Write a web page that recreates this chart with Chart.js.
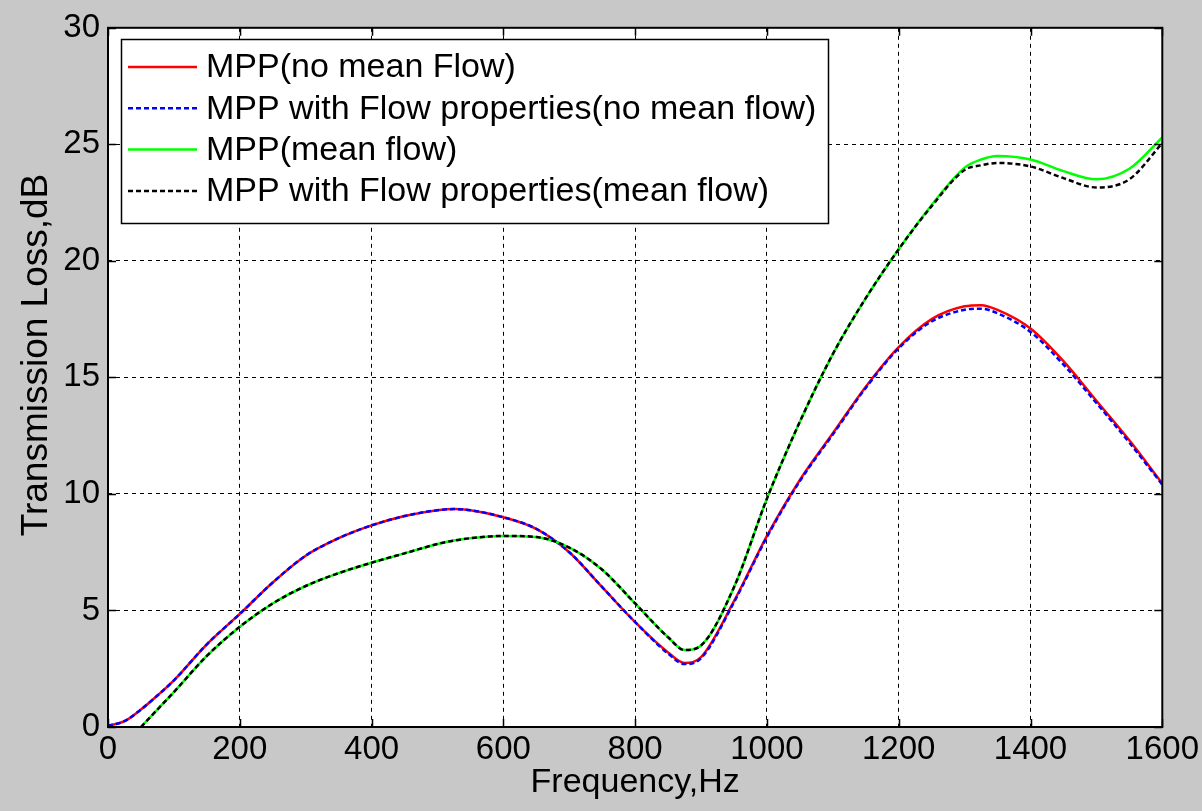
<!DOCTYPE html>
<html>
<head>
<meta charset="utf-8">
<script src="https://cdn.jsdelivr.net/npm/chart.js@4"></script>
<style>
  html, body { margin: 0; padding: 0; background: #c8c8c8; }
  #wrap { width: 1202px; height: 811px; }
</style>
</head>
<body>
<div id="wrap"><canvas id="tlChart"></canvas></div>
<script>
const freq = [0, 25, 50, 75, 100, 150, 200, 250, 300, 350, 400, 450, 500, 525, 550, 600, 650, 700, 750, 800, 850, 875, 900, 950, 1000, 1050, 1100, 1150, 1200, 1250, 1300, 1325, 1350, 1400, 1450, 1500, 1550, 1600];

const mppNoFlow      = [0.05, 0.25, 0.75, 1.35, 2.0, 3.55, 4.85, 6.2, 7.35, 8.1, 8.65, 9.05, 9.3, 9.35, 9.3, 9.0, 8.5, 7.5, 6.0, 4.5, 3.2, 2.75, 3.0, 5.4, 8.2, 10.6, 12.6, 14.6, 16.3, 17.5, 18.05, 18.1, 17.9, 17.1, 15.7, 14.0, 12.3, 10.45];
const mppPropsNoFlow = [0.05, 0.25, 0.75, 1.35, 2.0, 3.55, 4.85, 6.2, 7.35, 8.1, 8.65, 9.05, 9.3, 9.35, 9.3, 9.0, 8.5, 7.5, 6.0, 4.5, 3.15, 2.7, 2.95, 5.35, 8.15, 10.55, 12.55, 14.55, 16.25, 17.4, 17.9, 17.95, 17.75, 16.95, 15.55, 13.9, 12.2, 10.4];
const mppFlow        = [null, null, 0.0, 0.75, 1.5, 3.05, 4.3, 5.3, 6.05, 6.6, 7.05, 7.45, 7.85, 8.0, 8.1, 8.2, 8.15, 7.7, 6.75, 5.3, 3.85, 3.3, 3.5, 6.0, 9.8, 13.1, 16.0, 18.4, 20.5, 22.4, 24.0, 24.35, 24.5, 24.35, 23.85, 23.5, 23.95, 25.3];
const mppPropsFlow   = [null, null, 0.0, 0.75, 1.5, 3.05, 4.3, 5.3, 6.05, 6.6, 7.05, 7.45, 7.85, 8.0, 8.1, 8.2, 8.15, 7.7, 6.75, 5.3, 3.85, 3.3, 3.5, 6.0, 9.8, 13.1, 16.0, 18.4, 20.5, 22.35, 23.9, 24.1, 24.2, 24.05, 23.55, 23.15, 23.5, 25.05];

const labels = ['MPP(no mean Flow)', 'MPP with Flow properties(no mean flow)', 'MPP(mean flow)', 'MPP with Flow properties(mean flow)'];
const xTicks = [0, 200, 400, 600, 800, 1000, 1200, 1400, 1600];
const yTicks = [0, 5, 10, 15, 20, 25, 30];
const yTitle = 'Transmission Loss,dB';

const FONT = 'Liberation Sans, Arial, sans-serif';

function toPoints(ys) {
  return freq.map((f, i) => ({ x: f, y: ys[i] }));
}

// grey figure, white axes box, inward ticks, frame, legend
const matlabLook = {
  id: 'matlabLook',
  beforeDraw(chart) {
    const { ctx, chartArea: a } = chart;
    ctx.save();
    ctx.fillStyle = '#c8c8c8';
    ctx.fillRect(0, 0, chart.width, chart.height);
    ctx.fillStyle = '#ffffff';
    ctx.fillRect(a.left, a.top, a.right - a.left, a.bottom - a.top);
    ctx.restore();
  },
  afterDraw(chart) {
    const { ctx, chartArea: a, scales } = chart;
    ctx.save();
    ctx.strokeStyle = '#000';
    ctx.lineWidth = 1.5;
    const tl = 8;
    ctx.beginPath();
    xTicks.forEach(v => {
      const px = Math.round(scales.x.getPixelForValue(v)) + 0.5;
      ctx.moveTo(px, a.bottom); ctx.lineTo(px, a.bottom - tl);
      ctx.moveTo(px, a.top); ctx.lineTo(px, a.top + tl);
    });
    yTicks.forEach(v => {
      const py = Math.round(scales.y.getPixelForValue(v)) + 0.5;
      ctx.moveTo(a.left, py); ctx.lineTo(a.left + tl, py);
      ctx.moveTo(a.right, py); ctx.lineTo(a.right - tl, py);
    });
    ctx.stroke();
    ctx.lineWidth = 2;
    ctx.strokeRect(a.left, a.top, a.right - a.left, a.bottom - a.top);

    // y axis title, sits a bit above the axes centre like the original
    ctx.save();
    ctx.translate(37, 355);
    ctx.rotate(-Math.PI / 2);
    ctx.font = '37px ' + FONT;
    ctx.fillStyle = '#000';
    ctx.textAlign = 'center';
    ctx.textBaseline = 'middle';
    ctx.fillText(yTitle, 0, 0);
    ctx.restore();

    // legend box
    const box = { x: 121, y: 39, w: 707, h: 184 };
    ctx.fillStyle = '#fff';
    ctx.fillRect(box.x, box.y, box.w, box.h);
    ctx.lineWidth = 1.5;
    ctx.strokeStyle = '#000';
    ctx.strokeRect(box.x + 0.5, box.y + 0.5, box.w, box.h);
    ctx.font = '34px ' + FONT;
    ctx.textBaseline = 'middle';
    chart.data.datasets.forEach((ds, i) => {
      const cy = box.y + 28 + i * 41.3;
      ctx.strokeStyle = ds.borderColor;
      ctx.lineWidth = ds.borderWidth;
      ctx.setLineDash(ds.borderDash || []);
      ctx.beginPath();
      ctx.moveTo(128, cy); ctx.lineTo(197, cy);
      ctx.stroke();
      ctx.setLineDash([]);
      ctx.fillStyle = '#000';
      ctx.fillText(ds.label, 206, cy + 1);
    });
    ctx.restore();
  }
};

new Chart(document.getElementById('tlChart'), {
  type: 'line',
  data: {
    datasets: [
      { label: labels[0], data: toPoints(mppNoFlow), borderColor: '#ff0000', borderWidth: 2.5, order: 4 },
      { label: labels[1], data: toPoints(mppPropsNoFlow), borderColor: '#0000ff', borderWidth: 2.5, borderDash: [5, 3], order: 3 },
      { label: labels[2], data: toPoints(mppFlow), borderColor: '#00ff00', borderWidth: 2.5, order: 2 },
      { label: labels[3], data: toPoints(mppPropsFlow), borderColor: '#000000', borderWidth: 2.5, borderDash: [5, 3], order: 1 }
    ]
  },
  options: {
    responsive: true,
    maintainAspectRatio: false,
    animation: false,
    layout: { padding: { top: 24, right: 39, left: 0, bottom: 0 } },
    elements: {
      point: { radius: 0 },
      line: { cubicInterpolationMode: 'monotone', fill: false }
    },
    plugins: { legend: { display: false }, tooltip: { enabled: false } },
    scales: {
      x: {
        type: 'linear',
        min: 0,
        max: 1600,
        afterBuildTicks: s => { s.ticks = xTicks.map(v => ({ value: v })); },
        afterFit: s => { s.height = 84; },
        ticks: { color: '#000', font: { family: FONT, size: 33 }, padding: 3, maxRotation: 0, callback: v => String(v) },
        grid: { color: '#000', lineWidth: 1, drawTicks: false },
        border: { display: false, dash: [4, 4] },
        title: { display: true, text: 'Frequency,Hz', color: '#000', font: { family: FONT, size: 34 }, padding: { top: 0, bottom: 8 } }
      },
      y: {
        min: 0,
        max: 30,
        afterBuildTicks: s => { s.ticks = yTicks.map(v => ({ value: v })); },
        afterFit: s => { s.width = 108; },
        ticks: { color: '#000', font: { family: FONT, size: 33 }, padding: 8, callback: v => String(v) },
        grid: { color: '#000', lineWidth: 1, drawTicks: false },
        border: { display: false, dash: [4, 4] },
        title: { display: false }
      }
    }
  },
  plugins: [matlabLook]
});
</script>
</body>
</html>
